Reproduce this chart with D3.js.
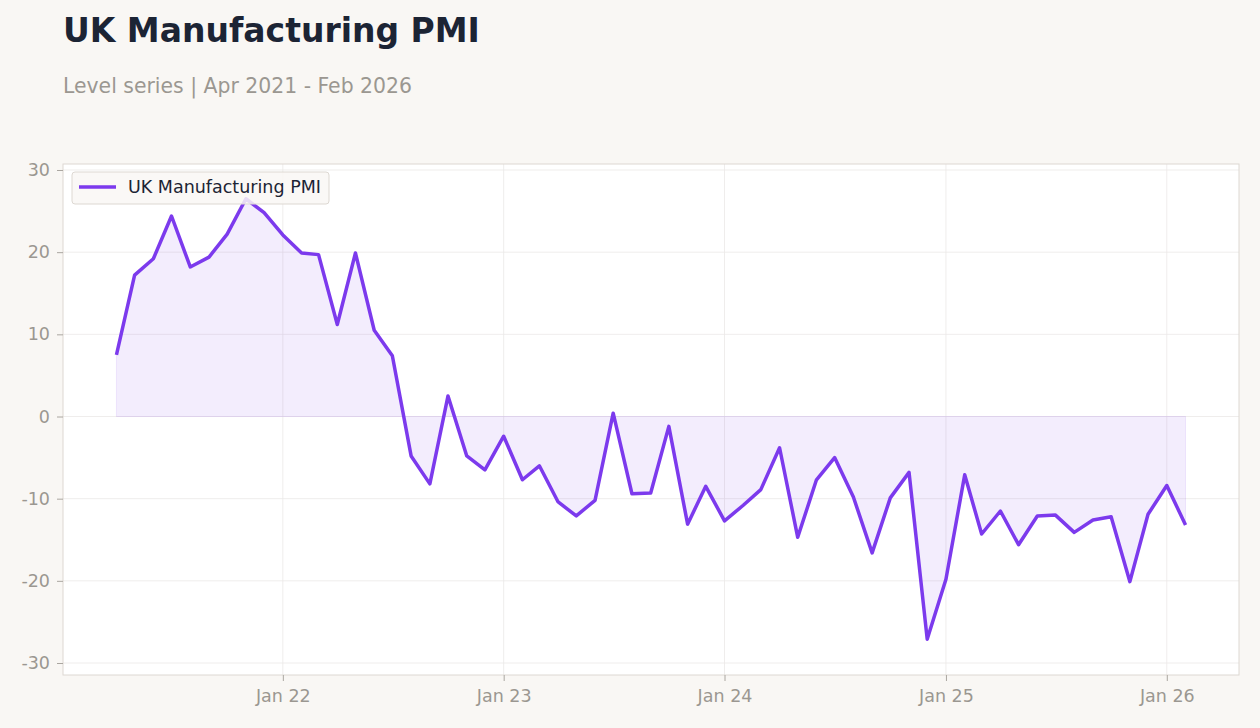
<!DOCTYPE html>
<html>
<head>
<meta charset="utf-8">
<script src="https://cdn.jsdelivr.net/npm/d3@7"></script>
<style>
  body { margin: 0; background: #f9f7f4; }
  svg { display: block; }
  svg text { font-family: "DejaVu Sans", sans-serif; }
</style>
</head>
<body>
<svg id="chart"></svg>
<script>
// monthly readings, Apr 2021 .. Feb 2026
var startMonth = [2021, 3];
var pmiValues = [
  7.5, 17.2, 19.2, 24.4, 18.2, 19.4, 22.2, 26.5, 24.8,
  22.1, 19.9, 19.7, 11.2, 19.9, 10.5, 7.4, -4.8, -8.2, 2.5, -4.8, -6.5,
  -2.4, -7.7, -6.0, -10.4, -12.1, -10.2, 0.4, -9.4, -9.3, -1.2, -13.1, -8.5,
  -12.7, -10.8, -8.9, -3.8, -14.7, -7.7, -5.0, -9.8, -16.6, -9.9, -6.8, -27.1,
  -19.8, -7.1, -14.3, -11.5, -15.6, -12.1, -12.0, -14.1, -12.6, -12.2, -20.1, -11.9,
  -8.4, -13.2
];
var yTicks = [-30, -20, -10, 0, 10, 20, 30];
var xTickDates = [new Date(2022, 0, 1), new Date(2023, 0, 1), new Date(2024, 0, 1), new Date(2025, 0, 1), new Date(2026, 0, 1)];
var seriesName = "UK Manufacturing PMI";

var data = pmiValues.map((v, i) => ({date: new Date(startMonth[0], startMonth[1] + i, 1), value: v}));

var width = 1260, height = 728;
var margin = {top: 164, right: 21, bottom: 53, left: 63};
var plotW = width - margin.left - margin.right;
var plotH = height - margin.top - margin.bottom;
var purple = "#7c3aed";

var svg = d3.select("#chart").attr("width", width).attr("height", height);

svg.append("text").attr("x", 63).attr("y", 42)
  .attr("font-size", 33).attr("font-weight", "bold").attr("fill", "#1c2434")
  .text("UK Manufacturing PMI");
svg.append("text").attr("x", 63).attr("y", 93)
  .attr("font-size", 20.4).attr("fill", "#9b9791")
  .text("Level series | Apr 2021 - Feb 2026");

var graph = svg.append("g").attr("transform", `translate(${margin.left},${margin.top})`);

// 5% padding on the time axis
var ext = d3.extent(data, d => d.date);
var pad = (ext[1] - ext[0]) * 0.05;
var x = d3.scaleTime()
  .domain([new Date(+ext[0] - pad), new Date(+ext[1] + pad)])
  .range([0, plotW]);
var y = d3.scaleLinear().domain([-31.46, 30.73]).range([plotH, 0]);

graph.append("rect").attr("width", plotW).attr("height", plotH).attr("fill", "#fff");

// grid
graph.append("g").selectAll("line").data(yTicks).join("line")
  .attr("x1", 0).attr("x2", plotW)
  .attr("y1", d => y(d)).attr("y2", d => y(d))
  .attr("stroke", "#ebe9e7").attr("stroke-width", 0.8);
graph.append("g").selectAll("line").data(xTickDates).join("line")
  .attr("x1", d => x(d)).attr("x2", d => x(d))
  .attr("y1", 0).attr("y2", plotH)
  .attr("stroke", "#ebe9e7").attr("stroke-width", 0.8);

// area to zero
var area = d3.area().x(d => x(d.date)).y0(y(0)).y1(d => y(d.value));
graph.append("path").datum(data)
  .attr("d", area)
  .attr("fill", purple).attr("fill-opacity", 0.09)
  .attr("stroke", purple).attr("stroke-opacity", 0.1).attr("stroke-width", 1);

var line = d3.line().x(d => x(d.date)).y(d => y(d.value));
graph.append("path").datum(data)
  .attr("d", line)
  .attr("fill", "none").attr("stroke", purple)
  .attr("stroke-width", 3.5).attr("stroke-linejoin", "round");

// frame
graph.append("rect").attr("width", plotW).attr("height", plotH)
  .attr("fill", "none").attr("stroke", "#ddd8d2").attr("stroke-width", 1);

// axes
var yAxis = d3.axisLeft(y).tickValues(yTicks).tickSize(6).tickPadding(7)
  .tickFormat(d => String(d));
var xAxis = d3.axisBottom(x).tickValues(xTickDates).tickSize(6).tickPadding(9)
  .tickFormat(d3.timeFormat("%b %y"));

var yAxisGroup = graph.append("g").call(yAxis);
var xAxisGroup = graph.append("g").attr("transform", `translate(0,${plotH})`).call(xAxis);

[yAxisGroup, xAxisGroup].forEach(g => {
  g.attr("font-family", null);
  g.select(".domain").remove();
  g.selectAll("line").attr("stroke", "#aaa6a0");
  g.selectAll("text").attr("fill", "#9b9791").attr("font-size", 17.5);
});

// legend
var legend = graph.append("g").attr("transform", "translate(9,8)");
legend.append("rect").attr("width", 257).attr("height", 32).attr("rx", 3)
  .attr("fill", "#f9f7f4").attr("fill-opacity", 0.85)
  .attr("stroke", "#ddd8d2");
legend.append("line").attr("x1", 7).attr("x2", 44).attr("y1", 15).attr("y2", 15)
  .attr("stroke", purple).attr("stroke-width", 3.5);
legend.append("text").attr("x", 56).attr("y", 21)
  .attr("font-size", 17.5).attr("fill", "#1c2434")
  .text(seriesName);
</script>
</body>
</html>
